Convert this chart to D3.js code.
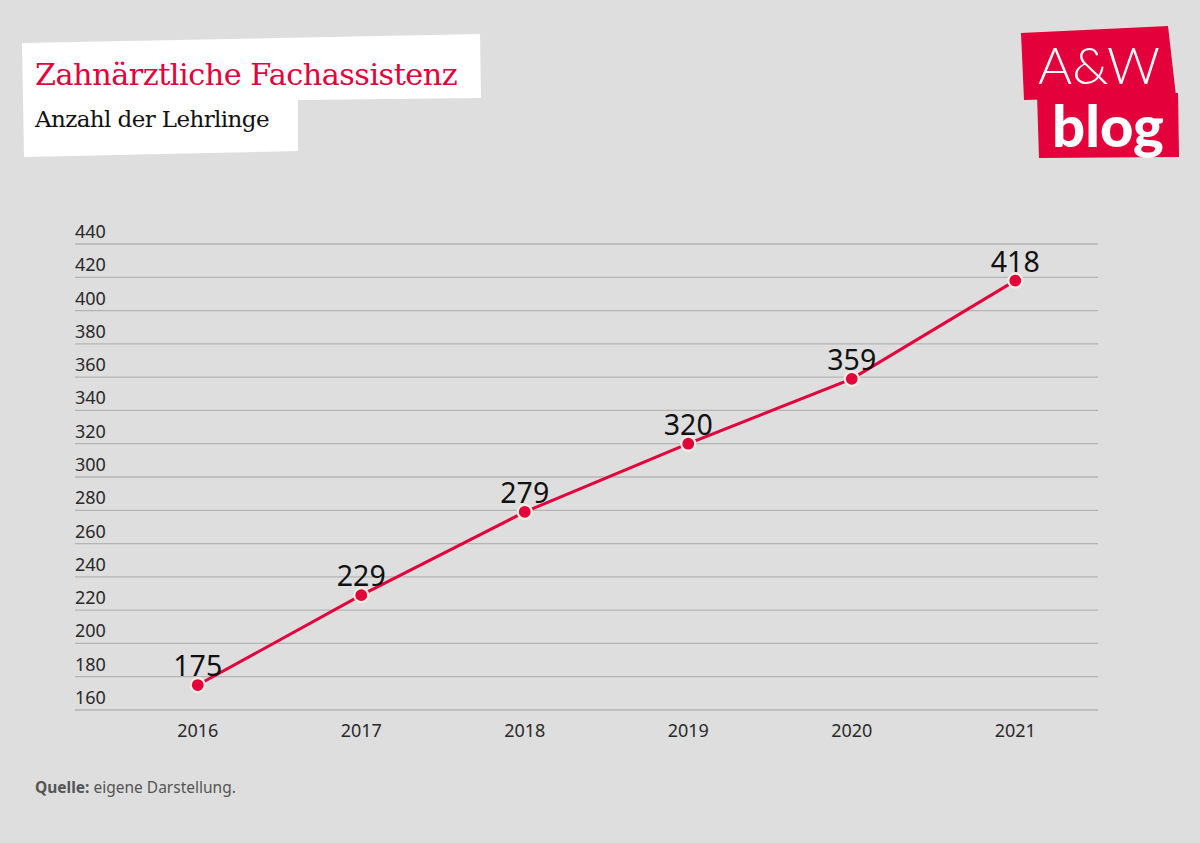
<!DOCTYPE html>
<html><head><meta charset="utf-8">
<script src="https://cdn.jsdelivr.net/npm/d3@7"></script>
<style>
html,body{margin:0;padding:0;background:#dedede;}
svg{display:block;}
</style></head><body>
<svg id="c" width="1200" height="843"></svg>
<script>
const years = ["2016","2017","2018","2019","2020","2021"];
const values = [175, 229, 279, 320, 359, 418];
const yTicks = [160,180,200,220,240,260,280,300,320,340,360,380,400,420,440];
const titleText = "Zahnärztliche Fachassistenz";
const subtitleText = "Anzahl der Lehrlinge";
const sourceBold = "Quelle:";
const sourceText = " eigene Darstellung.";

const red = "#e4003a";
const svg = d3.select("#c");
svg.append("rect").attr("width",1200).attr("height",843).attr("fill","#dedede");

// title box
svg.append("path").attr("fill","#fff")
  .attr("d","M22,43 L480,34 L481,98 L298,100 L298,151 L24,157 Z");
svg.append("text").attr("x",35).attr("y",85).attr("fill",red)
  .attr("font-family","DejaVu Serif").attr("font-size",30.3).attr("letter-spacing",-0.5).text(titleText);
svg.append("text").attr("x",35).attr("y",127).attr("fill","#111")
  .attr("font-family","DejaVu Serif").attr("font-size",23).attr("letter-spacing",-0.6).text(subtitleText);

// logo
svg.append("path").attr("fill",red).attr("d","M1021,33 L1168,26 L1176,96 L1024,100 Z");
svg.append("path").attr("fill",red).attr("d","M1037,95 L1178,93 L1179,157 L1039,158 Z");
svg.append("text").attr("x",1099).attr("y",84).attr("text-anchor","middle").attr("fill","#fff")
  .attr("font-family","Lato").attr("font-weight",300).attr("font-size",52).text("A&W");
svg.append("text").attr("x",1108).attr("y",147).attr("text-anchor","middle").attr("fill","#fff")
  .attr("font-family","Lato").attr("font-weight",900).attr("font-size",58).text("blog");

// scales
const x = d3.scaleBand().domain(years).range([116,1097]);
const y = d3.scaleLinear().domain([160,440]).range([710,244]);
const cx = d => x(d) + x.bandwidth()/2;

// grid + y labels
const g = svg.append("g");
g.selectAll("line.grid").data(yTicks).join("line")
  .attr("x1",75).attr("x2",1098).attr("y1",d=>y(d)).attr("y2",d=>y(d))
  .attr("stroke","#b4b4b4").attr("stroke-width",1.3);
g.selectAll("text.yl").data(yTicks).join("text")
  .attr("x",75).attr("y",d=>y(d)-6).attr("fill","#2a2a2a")
  .attr("font-family","Noto Sans").attr("font-size",18).text(d=>d);

// x labels
g.selectAll("text.xl").data(years).join("text")
  .attr("x",d=>cx(d)).attr("y",737).attr("text-anchor","middle").attr("fill","#2a2a2a")
  .attr("font-family","Noto Sans").attr("font-size",18).text(d=>d);

// line
const data = years.map((yr,i)=>({yr, v:values[i]}));
svg.append("path").datum(data)
  .attr("fill","none").attr("stroke",red).attr("stroke-width",3)
  .attr("d", d3.line().x(d=>cx(d.yr)).y(d=>y(d.v)));
svg.selectAll("circle.pt").data(data).join("circle")
  .attr("cx",d=>cx(d.yr)).attr("cy",d=>y(d.v)).attr("r",7)
  .attr("fill",red).attr("stroke","#f2efe2").attr("stroke-width",2.2);
svg.selectAll("text.vl").data(data).join("text")
  .attr("x",d=>cx(d.yr)).attr("y",d=>y(d.v)-9).attr("text-anchor","middle").attr("fill","#111")
  .attr("font-family","Noto Sans").attr("font-size",28.5).text(d=>d.v);

// source
const s = svg.append("text").attr("x",35).attr("y",793).attr("fill","#555")
  .attr("font-family","Noto Sans").attr("font-size",15.5);
s.append("tspan").attr("font-weight",700).text(sourceBold);
s.append("tspan").text(sourceText);
</script>
</body></html>
